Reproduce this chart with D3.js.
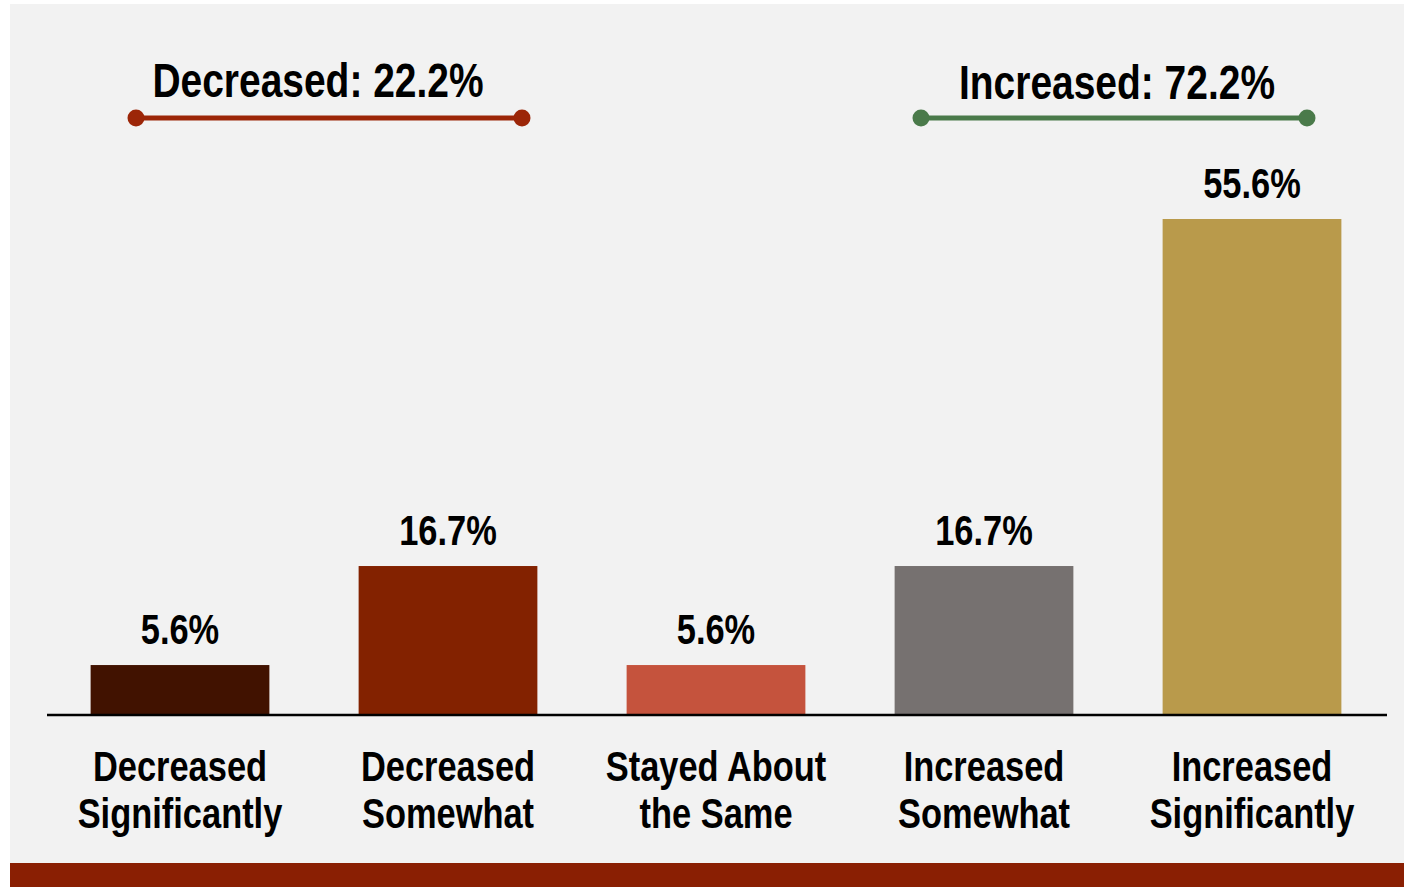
<!DOCTYPE html>
<html>
<head>
<meta charset="utf-8">
<script src="https://cdn.jsdelivr.net/npm/d3@7"></script>
<style>
  html, body { margin: 0; padding: 0; background: #ffffff; }
  svg text { font-family: "Liberation Sans Narrow", "Arial Narrow", "Liberation Sans", sans-serif; font-weight: bold; fill: #000; }
</style>
</head>
<body>
<div id="chart"></div>
<script>
// chart data
const categories = [
    ["Decreased", "Significantly"],
    ["Decreased", "Somewhat"],
    ["Stayed About", "the Same"],
    ["Increased", "Somewhat"],
    ["Increased", "Significantly"]
];
const values = [5.6, 16.7, 5.6, 16.7, 55.6];
const barColors = ["#411200", "#832200", "#c5533d", "#767170", "#b99a4b"];

// group brackets above the bars (start category, end category)
const groupLabels = ["Decreased: 22.2%", "Increased: 72.2%"];
const groupRanges = [[0, 1], [3, 4]];
const groupColors = ["#9c2608", "#4a7a4a"];

const W = 1404, H = 887;
const NARROW = 0.82; // no narrow font installed, squeeze the regular one

const svg = d3.select("#chart").append("svg")
    .attr("width", W)
    .attr("height", H);

// panel background + bottom band
svg.append("rect").attr("x", 10).attr("y", 4).attr("width", W - 10).attr("height", H - 4).attr("fill", "#f2f2f2");
svg.append("rect").attr("x", 10).attr("y", 863).attr("width", W - 10).attr("height", H - 863).attr("fill", "#8a1f03");

const keys = categories.map((d, i) => i);

const x = d3.scaleBand()
    .domain(keys)
    .range([46, 1386])
    .paddingInner(0.333)
    .paddingOuter(0.1665);

const y = d3.scaleLinear()
    .domain([0, 55.6])
    .range([715, 219]);

const cx = i => x(i) + x.bandwidth() / 2;

// bars
svg.selectAll(".bar")
    .data(values)
    .enter()
    .append("rect")
    .attr("class", "bar")
    .attr("x", (d, i) => x(i))
    .attr("y", d => y(d))
    .attr("width", x.bandwidth())
    .attr("height", d => y(0) - y(d))
    .attr("fill", (d, i) => barColors[i]);

// value labels
svg.selectAll(".val")
    .data(values)
    .enter()
    .append("text")
    .attr("class", "val")
    .attr("transform", (d, i) => `translate(${cx(i)},${y(d) - 21}) scale(${NARROW},1)`)
    .attr("text-anchor", "middle")
    .style("font-size", "42px")
    .text(d => d.toFixed(1) + "%");

// baseline
svg.append("line")
    .attr("x1", 47).attr("x2", 1387)
    .attr("y1", y(0)).attr("y2", y(0))
    .attr("stroke", "#000")
    .attr("stroke-width", 2.5);

// category labels (two lines)
const cat = svg.selectAll(".cat")
    .data(categories)
    .enter()
    .append("text")
    .attr("class", "cat")
    .attr("transform", (d, i) => `translate(${cx(i)},781) scale(${NARROW},1)`)
    .attr("text-anchor", "middle")
    .style("font-size", "42px");
cat.selectAll("tspan")
    .data(d => d)
    .enter()
    .append("tspan")
    .attr("x", 0)
    .attr("y", (d, j) => j * 47)
    .text(d => d);

// brackets: offsets from the band centres
const bracketOffsets = [[-44, 74], [-63, 55]];
groupLabels.forEach((label, g) => {
    const x1 = cx(groupRanges[g][0]) + bracketOffsets[g][0];
    const x2 = cx(groupRanges[g][1]) + bracketOffsets[g][1];
    const by = 118;
    svg.append("line")
        .attr("x1", x1).attr("x2", x2)
        .attr("y1", by).attr("y2", by)
        .attr("stroke", groupColors[g])
        .attr("stroke-width", 5);
    [x1, x2].forEach(px => {
        svg.append("circle")
            .attr("cx", px).attr("cy", by).attr("r", 8.5)
            .attr("fill", groupColors[g]);
    });
    svg.append("text")
        .attr("transform", `translate(${g === 0 ? 318 : 1117},${g === 0 ? 97 : 99}) scale(${NARROW},1)`)
        .attr("text-anchor", "middle")
        .style("font-size", "47.5px")
        .text(label);
});
</script>
</body>
</html>
